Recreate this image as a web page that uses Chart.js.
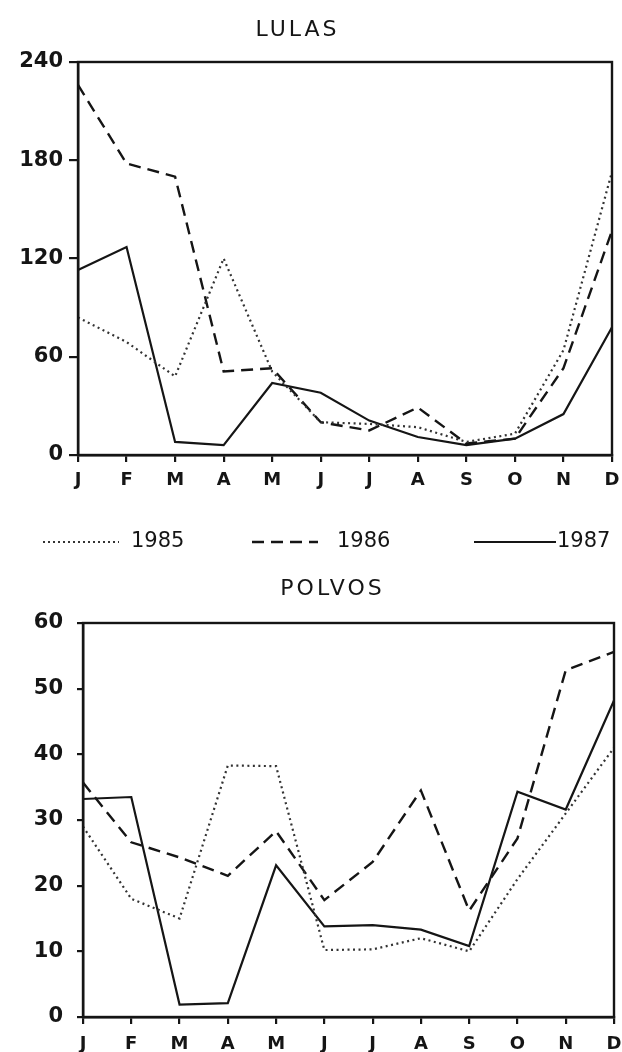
<!DOCTYPE html>
<html><head><meta charset="utf-8">
<script src="https://cdn.jsdelivr.net/npm/chart.js@4.4.0/dist/chart.umd.min.js"></script>
<style>
html,body{margin:0;padding:0;background:#fff;width:622px;height:1052px;overflow:hidden;}
#c1{position:absolute;left:0;top:0;}
#c2{position:absolute;left:0;top:560px;}
</style></head>
<body>
<canvas id="c1" width="622" height="560"></canvas>
<canvas id="c2" width="622" height="492"></canvas>
<script>
const months = ['J','F','M','A','M','J','J','A','S','O','N','D'];
const years = ['1985','1986','1987'];
const lulas1985 = [84, 69, 48, 120, 51, 20, 19, 17, 8, 13, 64, 173];
const lulas1986 = [226, 178, 170, 51, 53, 20, 15, 29, 7, 10, 53, 137];
const lulas1987 = [113, 127, 8, 6, 44, 38, 21, 11, 6, 10, 25, 78];
const polvos1985 = [29, 18, 15, 38.3, 38.2, 10.2, 10.3, 12, 10, 21, 31, 41];
const polvos1986 = [35.7, 26.6, 24.3, 21.5, 28.3, 17.8, 23.6, 34.5, 16.2, 27.2, 52.8, 55.6];
const polvos1987 = [33.2, 33.5, 1.9, 2.1, 23.1, 13.8, 14, 13.3, 10.8, 34.3, 31.6, 48.2];
const lulasTicks = [0, 60, 120, 180, 240];
const polvosTicks = [0, 10, 20, 30, 40, 50, 60];

const INK = '#151515';
const styles = [
  {borderDash:[2,3.5], borderWidth:2.2, borderColor:'#333'},
  {borderDash:[12,7], borderWidth:2.4, borderColor:INK},
  {borderDash:[], borderWidth:2.2, borderColor:INK}
];
const FONT = '"DejaVu Sans", "Liberation Sans", sans-serif';

const frame = {
  id:'frame',
  afterDatasetsDraw(chart, args, o){
    const {ctx, chartArea:a} = chart;
    ctx.save();
    ctx.strokeStyle = INK; ctx.lineWidth = 2.4;
    ctx.strokeRect(a.left, a.top, a.right-a.left, a.bottom-a.top);
    ctx.fillStyle = INK;
    ctx.font = '22px ' + FONT;
    ctx.letterSpacing = '3px';
    ctx.textAlign = 'center'; ctx.textBaseline = 'middle';
    ctx.fillText(o.title, o.tx + 1.5, o.ty);
    ctx.letterSpacing = '0px';
    if (o.legend) {
      ctx.font = '21px ' + FONT;
      ctx.textAlign = 'left';
      o.legend.forEach((it, i) => {
        const s = styles[i];
        ctx.beginPath();
        ctx.setLineDash(i === 0 ? [2,3] : s.borderDash);
        ctx.lineWidth = s.borderWidth;
        ctx.strokeStyle = s.borderColor;
        ctx.moveTo(it.x0, o.ly); ctx.lineTo(it.x1, o.ly);
        ctx.stroke();
        ctx.setLineDash([]);
        ctx.fillStyle = INK;
        ctx.fillText(years[i], it.tx, o.ly);
      });
    }
    ctx.restore();
  }
};

function make(id, series, ticks, max, cfg) {
  const datasets = series.map((d, i) => Object.assign({
    label: years[i], data: d, pointRadius: 0, tension: 0, fill: false
  }, styles[i]));
  return new Chart(document.getElementById(id), {
    type: 'line',
    data: {labels: months, datasets},
    plugins: [frame],
    options: {
      responsive: false, animation: false,
      layout: {padding: {top: cfg.top, right: cfg.right, left: 0, bottom: 0}},
      plugins: {legend: {display: false}, tooltip: {enabled: false}, frame: cfg.frame},
      scales: {
        x: {
          offset: false,
          grid: {display: true, drawOnChartArea: false, drawTicks: true, tickLength: 7, color: INK, lineWidth: 2.2},
          border: {display: true, color: INK, width: 2.4},
          ticks: {color: INK, font: {family: FONT, size: 18, weight: 'bold'}, padding: cfg.xpad, maxRotation: 0, autoSkip: false},
          afterFit(s){ s.height = cfg.xh; s.paddingLeft = 0; s.paddingRight = 0; }
        },
        y: {
          min: 0, max: max,
          afterBuildTicks(s){ s.ticks = ticks.map(v => ({value: v})); },
          grid: {display: true, drawOnChartArea: false, drawTicks: true, tickLength: cfg.ytl, color: INK, lineWidth: 2.2},
          border: {display: true, color: INK, width: 2.4},
          ticks: {color: INK, font: {family: FONT, size: 21, weight: 'bold'}, padding: cfg.ypad},
          afterFit(s){ s.width = cfg.yw; s.paddingTop = 0; s.paddingBottom = 0; }
        }
      }
    }
  });
}

make('c1', [lulas1985, lulas1986, lulas1987], lulasTicks, 240, {
  top: 62, right: 10, xh: 105, yw: 78, xpad: 8, ytl: 9, ypad: 6,
  frame: {title: 'LULAS', tx: 296, ty: 30, ly: 542,
    legend: [{x0:43, x1:119, tx:131}, {x0:252, x1:318, tx:337}, {x0:474, x1:556, tx:557}]}
});
make('c2', [polvos1985, polvos1986, polvos1987], polvosTicks, 60, {
  top: 63, right: 8, xh: 35, yw: 83, xpad: 10, ytl: 6, ypad: 14,
  frame: {title: 'POLVOS', tx: 331, ty: 29}
});
</script>
</body></html>
